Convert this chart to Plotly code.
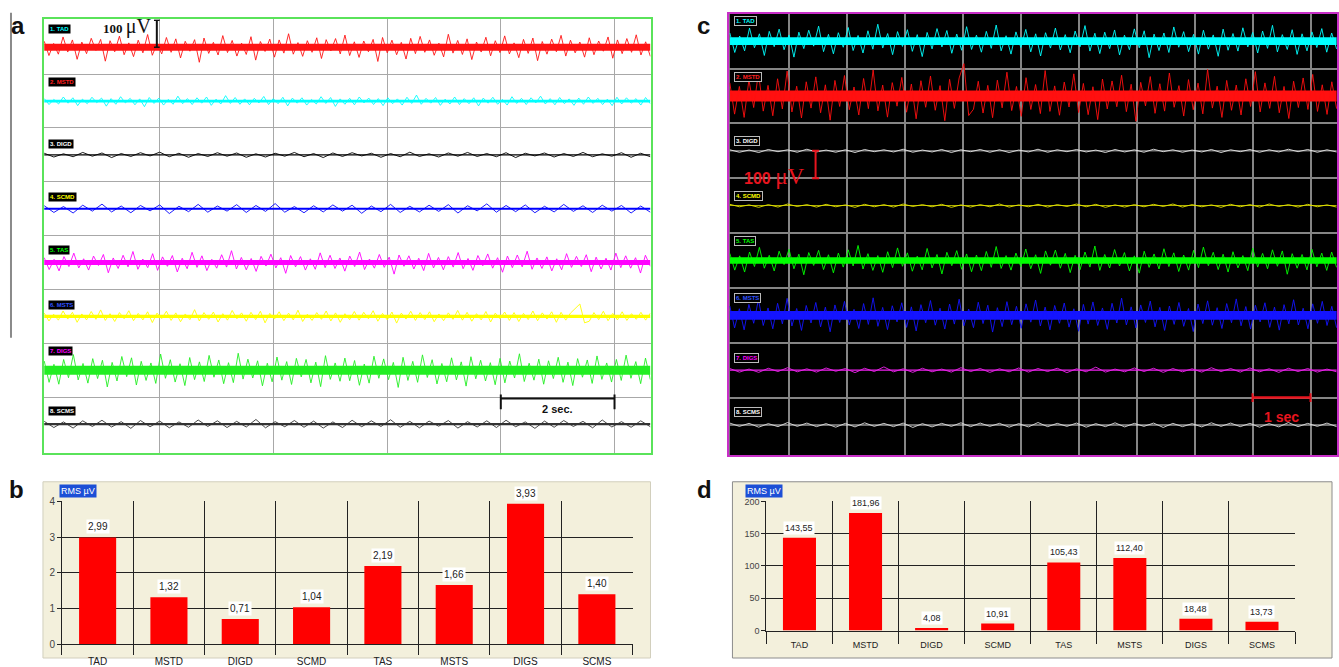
import numpy as np
import plotly.graph_objects as go

W, H = 1339, 667

channels = ["TAD", "MSTD", "DIGD", "SCMD", "TAS", "MSTS", "DIGS", "SCMS"]

# ---- panel a : raw EMG (μV), samples ----
a1 = [22,-31,14,-26,38,-18,27,-45,19,-24,33,-12,29,-52,24,-17,41,-28,16,-35,26,-21,47,-30,13,-25,36,-19,31,-40,22,-15,28,-56,34,-23,18,-29,43,-20,25,-33,15,-27,39,-48,21,-16,30,-37,27,-22,50,-26,17,-34,24,-19,35,-42,28,-14,32,-25,45,-31,20,-38,23,-17,29,-53,36,-21,26,-28,18,-44,33,-24,40,-19,27,-30,15,-36,48,-22,25,-27,31,-46,19,-18,37,-32,24,-20,42,-25,16,-39,29,-23,34,-50,21,-26,30,-17,44,-33,26,-21,19,-37,35,-28,23,-15,38,-41,27,-24,32,-19,46,-29,20,-34]
a2 = [9,-13,6,-11,15,-8,12,-17,7,-10,14,-6,11,-19,9,-12,16,-7,10,-14,8,-21,13,-9,11,-15,6,-12,18,-10,9,-13,12,-8,15,-16,7,-11,20,-9,13,-12,8,-14,10,-7,17,-13,9,-10,14,-18,11,-8,12,-15,6,-11,16,-9,13,-20,8,-12,10,-14,15,-7,11,-13,9,-17,12,-10,8,-15,14,-9,22,-12,10,-8,13,-16,7,-11,15,-13,9,-10,12,-18,11,-8,14,-12,6,-15,16,-9,10,-13,12,-7,18,-11,9,-14,13,-10,8,-16,11,-12,15,-9,10,-13,7,-17,14,-11,12,-8,9,-15,13,-10]
a3 = [6,-8,4,-7,9,-5,7,-10,5,-6,8,-4,10,-7,6,-9,5,-6,8,-5,7,-9,4,-8,6,-5,9,-7,5,-10,7,-6,8,-4,6,-9,5,-7,10,-6,4,-8,7,-5,9,-6,5,-7,8,-10,6,-4,7,-8,5,-6,9,-7,4,-5,8,-9,6,-7]
a4 = [11,-14,8,-16,13,-9,17,-12,10,-15,12,-8,14,-18,9,-11,16,-13,10,-9,15,-14,12,-10,19,-13,8,-15,11,-12,14,-9,13,-17,10,-11,16,-14,9,-12,13,-10,15,-16,11,-8,18,-13,12,-11,14,-15,9,-12,16,-10,11,-14,13,-9,12,-16,10,-13]
a5 = [18,-26,12,-31,22,-15,35,-20,14,-28,24,-11,30,-38,17,-22,27,-16,41,-25,13,-19,33,-29,21,-14,26,-35,16,-23,38,-18,25,-30,12,-21,29,-17,44,-24,19,-27,15,-33,23,-13,31,-20,18,-40,26,-16,22,-28,14,-25,36,-19,27,-22,17,-32,24,-15,39,-26,13,-21,30,-18,20,-43,28,-14,25,-24,16,-30,34,-20,19,-27,22,-17,37,-23,15,-29,26,-12,32,-21,18,-36,24,-19,28,-16,42,-25,17,-22,21,-31,14,-27,33,-18,23,-15,29,-34,20,-24,16,-28,35,-19,25,-21,18,-39,27,-14]
a6 = [12,-17,8,-14,20,-10,15,-22,9,-13,18,-11,24,-15,10,-19,14,-9,21,-16,11,-13,17,-23,12,-8,19,-15,13,-20,9,-12,25,-17,14,-11,16,-21,10,-14,22,-9,13,-18,15,-12,19,-24,11,-10,17,-16,12,-13,23,-19,8,-15,14,-11,20,-17,13,-22,10,-12,18,-14,15,-9,21,-18,11,-13,16,-25,12,-10,19,-15,14,-12,17,-20,9,-16,13,-11,22,-14,15,-18,10,-13,18,-21,12,-9,16,-15,14,-19,11,-12,20,-16,13,-10,17,-22,15,-14,12,28,46,-24,-18,14,-12,19,-16,11,-13,17,-15,10,-11,15,-14,12]
a7 = [34,-45,22,-52,40,-28,58,-36,25,-48,43,-31,37,-62,29,-40,51,-24,46,-55,33,-38,27,-49,60,-30,39,-44,24,-57,47,-35,31,-42,55,-26,38,-50,28,-46,63,-33,41,-29,35,-58,26,-43,49,-37,32,-53,44,-25,40,-47,30,-61,54,-34,27,-41,45,-39,36,-56,23,-48,52,-30,42,-35,29,-64,48,-38,33,-45,57,-27,39,-51,25,-43,46,-36,31,-59,50,-32,37,-40,28,-54,44,-47,34,-29,61,-42,26,-37,41,-52,35,-31,48,-45,30,-57,43,-26,38,-49,53,-34,27,-44,40,-38,56,-30,32,-50,45,-35]
a8 = [10,-13,8,-15,12,-9,14,-11,9,-16,13,-10,11,-14,8,-12,15,-9,12,-13,10,-11,17,-14,9,-10,13,-12,11,-15,8,-13,14,-10,12,-9,16,-12,10,-14,11,-8,13,-15,9,-11,12,-13,14,-10,8,-16,11,-12,13,-9,10,-14,15,-11,9,-12,12,-10]
a_core = [13, 5, 2, 4, 9, 6, 17, 4]

# ---- panel c : raw EMG (μV) ----
c1 = [30,-41,19,-35,48,-24,27,-52,36,-20,44,-31,23,-58,33,-27,40,-18,55,-38,25,-46,31,-22,50,-34,21,-43,38,-29,62,-25,28,-49,35,-19,42,-37,24,-56,32,-28,46,-21,39,-44,26,-33,53,-30,22,-40,36,-26,59,-35,20,-47,34,-23,43,-39,27,-54,31,-25,48,-32,24,-42,37,-20,57,-36,29,-45,33,-27,41,-50,22,-31,45,-24,38,-60,26,-34,30,-41,52,-22,35,-38,25,-47,40,-29,23,-55,44,-33,28,-36,49,-21,32,-43,37,-26,58,-39,24,-30,42,-48,27,-35,34,-23,46,-40,30,-28]
c2 = [48,-66,35,-78,59,-42,85,-55,39,-72,63,-47,91,-58,36,-80,52,-44,70,-61,41,-88,57,-38,75,-50,33,-69,64,-46,95,-54,40,-77,49,-37,68,-59,44,-83,56,-41,73,-52,38,-90,61,-45,66,118,-71,-48,54,-62,39,-79,58,-43,87,-53,35,-74,67,-49,42,-64,93,-56,37,-70,51,-40,81,-60,46,-68,34,-86,62,-47,55,-39,76,-57,43,-92,50,-36,71,-63,45,-55,84,-41,38,-73,60,-50,47,-65,97,-44,36,-78,57,-52,40,-69,63,-38,89,-58,48,-45,72,-61,35,-82,54,-42,66,-49,79,-56,41,-67,52,-46]
c3 = [4,-5,3,-6,5,-3,4,-5,6,-4,3,-5,4,-6,5,-3,4,-4,6,-5,3,-4,5,-6,4,-3,5,-5,4,-6,3,-4,6,-5,4,-3,5,-4,3,-6,5,-4,4,-5,6,-3,4,-5,3,-4,5,-6,4,-3,5,-5,4,-4,6,-3,5,-5,4,-4]
c4 = [5,-4,3,-6,4,-5,6,-3,4,-5,5,-4,3,-6,5,-4,4,-5,6,-3,4,-4,5,-6,3,-5,4,-4,6,-5,3,-4,5,-5,4,-3,6,-4,5,-6,3,-5,4,-4,5,-3,6,-5,4,-4,3,-6,5,-4,4,-5,6,-3,4,-5,5,-4,3,-5]
c5 = [26,-35,17,-42,31,-22,48,-28,19,-38,34,-15,41,-30,23,-52,29,-18,37,-33,21,-45,27,-24,39,-20,55,-31,25,-36,18,-43,32,-26,46,-21,28,-39,16,-34,44,-27,22,-49,30,-19,36,-32,24,-41,20,-37,33,-25,51,-29,18,-35,27,-23,42,-30,21,-47,35,-17,38,-28,26,-44,19,-33,31,-24,53,-36,22,-27,40,-20,29,-38,17,-46,34,-25,24,-31,43,-22,28,-40,20,-35,37,-26,49,-19,30,-33,23,-42,32,-27,18,-37,45,-24,26,-30,39,-21,35,-50,25,-28,22,-34,41,-23,27,-36,31,-25]
c6 = [34,-46,24,-53,40,-29,58,-37,27,-49,44,-31,62,-39,25,-55,36,-28,47,-42,30,-60,38,-26,51,-35,22,-48,43,-33,64,-40,29,-52,35,-24,46,-44,31,-57,39,-27,54,-36,26,-50,41,-32,59,-38,23,-45,48,-30,37,-61,28,-41,50,-34,33,-47,42,-25,56,-39,30,-53,36,-29,45,-43,24,-58,40,-32,49,-37,27,-51,44,-28,63,-35,31,-46,38,-26,52,-42,29,-55,34,-33,47,-40,25,-59,41,-30,53,-36,28,-48,43,-27,60,-38,32,-50,37,-24,46,-44,30,-54,39,-31,57,-35,26,-49,42,-29,51,-37,33,-45]
c7 = [6,-7,4,-8,7,-5,9,-6,5,-7,8,-4,6,-9,7,-5,12,-6,5,-8,7,-6,4,-7,9,-5,6,-8,5,-6,8,-7,6,-5,7,-9,5,-6,11,-7,4,-6,8,-5,7,-8,6,-6,5,-7,9,-5,6,-7,8,-6,5,-8,7,-5,6,-7,4,-6]
c8 = [7,-5,6,-8,5,-6,9,-5,7,-6,5,-8,6,-7,8,-5,6,-6,7,-9,5,-7,6,-5,8,-6,7,-5,6,-8,5,-7,9,-6,6,-5,7,-8,5,-6,8,-7,6,-5,7,-9,6,-6,5,-7,8,-5,7,-6,6,-8,5,-7,9,-6,6,-5,7,-6]
c_core = [14, 20, 1.5, 1.5, 12, 16, 2, 2]

# ---- panels b and d : RMS values ----
rms_b = [2.99, 1.32, 0.71, 1.04, 2.19, 1.66, 3.93, 1.40]
rms_d = [143.55, 181.96, 4.08, 10.91, 105.43, 112.40, 18.48, 13.73]
b_ticks = [0, 1, 2, 3, 4]
d_ticks = [0, 50, 100, 150, 200]

a_colors = ['#ff1414', '#00ffff', '#000000', '#0000ff', '#ff00ff', '#ffff00', '#22ee22', '#333333']
c_colors = ['#00ffff', '#ff1010', '#e6e6e6', '#e6e600', '#00ff00', '#1414ff', '#ee22ee', '#dddddd']
lab_colors = ['#00ffff', '#ff2020', '#ffffff', '#ffff00', '#00ff00', '#3050ff', '#ff00ff', '#ffffff']
a_lab_off = [69, 69, 40, 44, 46, 44, 73, 47]   # label height above baseline (μV)
c_lab_off = [75, 71, 36, 36, 71, 64, 43, 46]

SP = 200  # μV between channel baselines

fig = go.Figure()


def add_emg(sigs, cores, cols, xa, ya, t0, t1):
    for k, (sig, core, col) in enumerate(zip(sigs, cores, cols)):
        base = -SP * k
        fig.add_trace(go.Scatter(x=[t0, t1, t1, t0], y=[base - core, base - core, base + core, base + core],
                                 fill='toself', fillcolor=col, mode='lines', line=dict(width=0),
                                 xaxis=xa, yaxis=ya, hoverinfo='skip', showlegend=False))
        t = np.linspace(t0, t1, len(sig))
        fig.add_trace(go.Scatter(x=t, y=base + np.array(sig), mode='lines', line=dict(color=col, width=0.9),
                                 xaxis=xa, yaxis=ya, hoverinfo='skip', showlegend=False))


add_emg([a1, a2, a3, a4, a5, a6, a7, a8], a_core, a_colors, 'x', 'y', -0.03, 10.63)
add_emg([c1, c2, c3, c4, c5, c6, c7, c8], c_core, c_colors, 'x2', 'y2', -0.02, 10.45)

fig.add_trace(go.Bar(x=list(range(len(channels))), y=rms_b, width=0.52, marker=dict(color='#ff0000', line=dict(width=0)),
                     xaxis='x3', yaxis='y3', hoverinfo='skip', showlegend=False))
fig.add_trace(go.Bar(x=list(range(len(channels))), y=rms_d, width=0.5, marker=dict(color='#ff0000', line=dict(width=0)),
                     xaxis='x4', yaxis='y4', hoverinfo='skip', showlegend=False))

FONT = 'Liberation Sans, Arial, sans-serif'
SERIF = 'Liberation Serif, Times New Roman, serif'

grid_hidden = dict(showticklabels=False, ticks='', zeroline=False, showgrid=True)

fig.update_layout(
    width=W, height=H, margin=dict(l=0, r=0, t=0, b=0),
    paper_bgcolor='white', plot_bgcolor='rgba(0,0,0,0)', showlegend=False,
    font=dict(family=FONT, color='#222'),
    xaxis=dict(domain=[44 / W, 651 / W], range=[-0.035, 10.633], anchor='y', tickvals=[2, 4, 6, 8, 10],
               gridcolor='#a8a8a8', gridwidth=1, showline=True, mirror=True, linecolor='#5ae35a', linewidth=2,
               **grid_hidden),
    yaxis=dict(domain=[1 - 458 / H, 1 - 14.5 / H], range=[-1509, 104], anchor='x',
               tickvals=[-100 - SP * k for k in range(7)], gridcolor='#a8a8a8', gridwidth=1,
               showline=True, mirror=True, linecolor='#5ae35a', linewidth=2, **grid_hidden),
    xaxis2=dict(domain=[730 / W, 1338 / W], range=[-0.026, 10.457], anchor='y2', tickvals=list(range(1, 11)),
                gridcolor='#858585', gridwidth=1.5, showline=True, mirror=True, linecolor='#c82ec8', linewidth=2,
                **grid_hidden),
    yaxis2=dict(domain=[1 - 460 / H, 1 - 9.3 / H], range=[-1510.7, 98.9], anchor='x2',
                tickvals=[-100 - SP * k for k in range(7)], gridcolor='#858585', gridwidth=1.5,
                showline=True, mirror=True, linecolor='#c82ec8', linewidth=2, **grid_hidden),
    xaxis3=dict(domain=[62 / W, 633 / W], range=[-0.5, 7.5], anchor='y3',
                tickvals=list(range(len(channels))), ticktext=channels, ticks='', showgrid=False, zeroline=False,
                showline=True, linecolor='#222', linewidth=1, tickfont=dict(size=10, color='#222'),
                ticklabelstandoff=8,
                minor=dict(tickvals=[i - 0.5 for i in range(len(channels) + 1)], ticks='outside', ticklen=10,
                           tickcolor='#222', showgrid=True, gridcolor='#222', gridwidth=1)),
    yaxis3=dict(domain=[1 - 653 / H, 1 - 507 / H], range=[0, 4], anchor='x3', tickvals=b_ticks,
                ticks='outside', ticklen=4, tickcolor='#222', showgrid=True, gridcolor='#222', gridwidth=1,
                zeroline=False, showline=True, linecolor='#222', tickfont=dict(size=10, color='#444')),
    yaxis5=dict(overlaying='y3', side='right', anchor='x3', range=[0, 4], tickvals=b_ticks,
                ticks='outside', ticklen=4, tickcolor='#222', showgrid=False, zeroline=False,
                showline=True, linecolor='#222', tickfont=dict(size=10, color='#444')),
    xaxis4=dict(domain=[767 / W, 1296 / W], range=[-0.5, 7.5], anchor='y4',
                tickvals=list(range(len(channels))), ticktext=channels, ticks='', showgrid=False, zeroline=False,
                showline=True, linecolor='#222', linewidth=1, tickfont=dict(size=9, color='#222'),
                ticklabelstandoff=6,
                minor=dict(tickvals=[i - 0.5 for i in range(len(channels) + 1)], ticks='outside', ticklen=12,
                           tickcolor='#222', showgrid=True, gridcolor='#222', gridwidth=1)),
    yaxis4=dict(domain=[1 - 639 / H, 1 - 507 / H], range=[0, 200], anchor='x4', tickvals=d_ticks,
                ticks='outside', ticklen=4, tickcolor='#222', showgrid=True, gridcolor='#222', gridwidth=1,
                zeroline=False, showline=True, linecolor='#222', tickfont=dict(size=9, color='#444')),
    yaxis6=dict(overlaying='y4', side='right', anchor='x4', range=[0, 200], tickvals=d_ticks,
                ticks='outside', ticklen=4, tickcolor='#222', showgrid=False, zeroline=False,
                showline=True, linecolor='#222', tickfont=dict(size=9, color='#444')),
)

shapes = []
# backgrounds
shapes.append(dict(type='rect', xref='paper', yref='paper', x0=43 / W, x1=651 / W, y0=0, y1=1 - 487 / H,
                   fillcolor='#f3f0dc', line=dict(color='#d2cfbd', width=1), layer='below'))
shapes.append(dict(type='rect', xref='paper', yref='paper', x0=733 / W, x1=1333 / W, y0=0, y1=1 - 487 / H,
                   fillcolor='#f3f0dc', line=dict(color='#8c8c8c', width=1), layer='below'))
shapes.append(dict(type='rect', xref='paper', yref='paper', x0=730 / W, x1=1338 / W, y0=1 - 460 / H,
                   y1=1 - 9.3 / H, fillcolor='#000000', line=dict(width=0), layer='below'))
# left vertical rule
shapes.append(dict(type='line', xref='paper', yref='paper', x0=11 / W, x1=11 / W, y0=1 - 340 / H, y1=1 - 8 / H,
                   line=dict(color='#8a8a8a', width=2)))
# panel a scale bars
shapes += [
    dict(type='line', xref='x', yref='y', x0=1.95, x1=1.95, y0=0, y1=100, line=dict(color='#111', width=2)),
    dict(type='line', xref='x', yref='y', x0=1.90, x1=2.00, y0=100, y1=100, line=dict(color='#111', width=1.5)),
    dict(type='line', xref='x', yref='y', x0=1.90, x1=2.00, y0=0, y1=0, line=dict(color='#111', width=1.5)),
    dict(type='line', xref='x', yref='y', x0=8, x1=10, y0=-1305, y1=-1305, line=dict(color='#111', width=2)),
    dict(type='line', xref='x', yref='y', x0=8, x1=8, y0=-1290, y1=-1345, line=dict(color='#111', width=2)),
    dict(type='line', xref='x', yref='y', x0=10, x1=10, y0=-1290, y1=-1345, line=dict(color='#111', width=2)),
]
# panel c scale bars
RED = '#e8141e'
shapes += [
    dict(type='line', xref='x2', yref='y2', x0=1.46, x1=1.46, y0=-400, y1=-500, line=dict(color=RED, width=2)),
    dict(type='line', xref='x2', yref='y2', x0=1.40, x1=1.52, y0=-400, y1=-400, line=dict(color=RED, width=2)),
    dict(type='line', xref='x2', yref='y2', x0=1.40, x1=1.52, y0=-500, y1=-500, line=dict(color=RED, width=2)),
    dict(type='line', xref='x2', yref='y2', x0=9, x1=10, y0=-1300, y1=-1300, line=dict(color=RED, width=2.5)),
    dict(type='line', xref='x2', yref='y2', x0=9, x1=9, y0=-1284, y1=-1316, line=dict(color=RED, width=2)),
    dict(type='line', xref='x2', yref='y2', x0=10, x1=10, y0=-1284, y1=-1316, line=dict(color=RED, width=2)),
]
fig.update_layout(shapes=shapes)

ann = []
# panel letters
for letter, px, py in [('a', 18, 21), ('b', 17, 495), ('c', 704, 21), ('d', 705, 495)]:
    ann.append(dict(text='<b>%s</b>' % letter, xref='paper', yref='paper', x=px / W, y=1 - py / H,
                    xanchor='center', yanchor='middle', showarrow=False,
                    font=dict(family=FONT, size=24, color='#111')))
# channel labels
for k, name in enumerate(channels):
    ann.append(dict(text='<b>%d. %s</b>' % (k + 1, name), xref='x', yref='y', x=0.03, y=-SP * k + a_lab_off[k],
                    xanchor='left', yanchor='middle', showarrow=False, bgcolor='#000000', borderpad=1,
                    font=dict(family=FONT, size=6, color=lab_colors[k])))
    ann.append(dict(text='<b>%d. %s</b>' % (k + 1, name), xref='x2', yref='y2', x=0.06, y=-SP * k + c_lab_off[k],
                    xanchor='left', yanchor='middle', showarrow=False, bgcolor='#000000', borderpad=1,
                    bordercolor='#bbbbbb', borderwidth=1,
                    font=dict(family=FONT, size=6, color=lab_colors[k])))
# scale bar texts
ann.append(dict(text="<b>100</b> <span style='font-size:20px'>μV</span>", xref='x', yref='y', x=1.88, y=78,
                xanchor='right', yanchor='middle', showarrow=False, font=dict(family=SERIF, size=13, color='#111')))
ann.append(dict(text='<b>2 sec.</b>', xref='x', yref='y', x=9, y=-1343, xanchor='center', yanchor='middle',
                showarrow=False, font=dict(family=FONT, size=11, color='#111')))
ann.append(dict(text="<b>100</b> <span style='font-family:Liberation Serif;font-size:23px'>μV</span>",
                xref='x2', yref='y2', x=1.30, y=-493, xanchor='right', yanchor='middle', showarrow=False,
                font=dict(family=FONT, size=16, color=RED)))
ann.append(dict(text='<b>1 sec</b>', xref='x2', yref='y2', x=9.5, y=-1371, xanchor='center', yanchor='middle',
                showarrow=False, font=dict(family=FONT, size=14, color=RED)))
# RMS boxes
for px, py in [(78, 496.5), (765, 496.5)]:
    ann.append(dict(text='RMS µV', xref='paper', yref='paper', x=px / W, y=1 - py / H, xanchor='center',
                    yanchor='middle', showarrow=False, bgcolor='#1c4fd6', borderpad=1,
                    font=dict(family=FONT, size=9, color='#ffffff')))
# bar value labels
for i, v in enumerate(rms_b):
    ann.append(dict(text=('%.2f' % v).replace('.', ','), xref='x3', yref='y3', x=i, y=v, xanchor='center',
                    yanchor='bottom', yshift=3, showarrow=False, bgcolor='#ffffff', borderpad=1,
                    font=dict(family=FONT, size=10, color='#222')))
for i, v in enumerate(rms_d):
    ann.append(dict(text=('%.2f' % v).replace('.', ','), xref='x4', yref='y4', x=i, y=v, xanchor='center',
                    yanchor='bottom', yshift=3, showarrow=False, bgcolor='#ffffff', borderpad=1,
                    font=dict(family=FONT, size=9, color='#222')))
fig.update_layout(annotations=ann)

fig.write_html("out.html", config=dict(displayModeBar=False))
